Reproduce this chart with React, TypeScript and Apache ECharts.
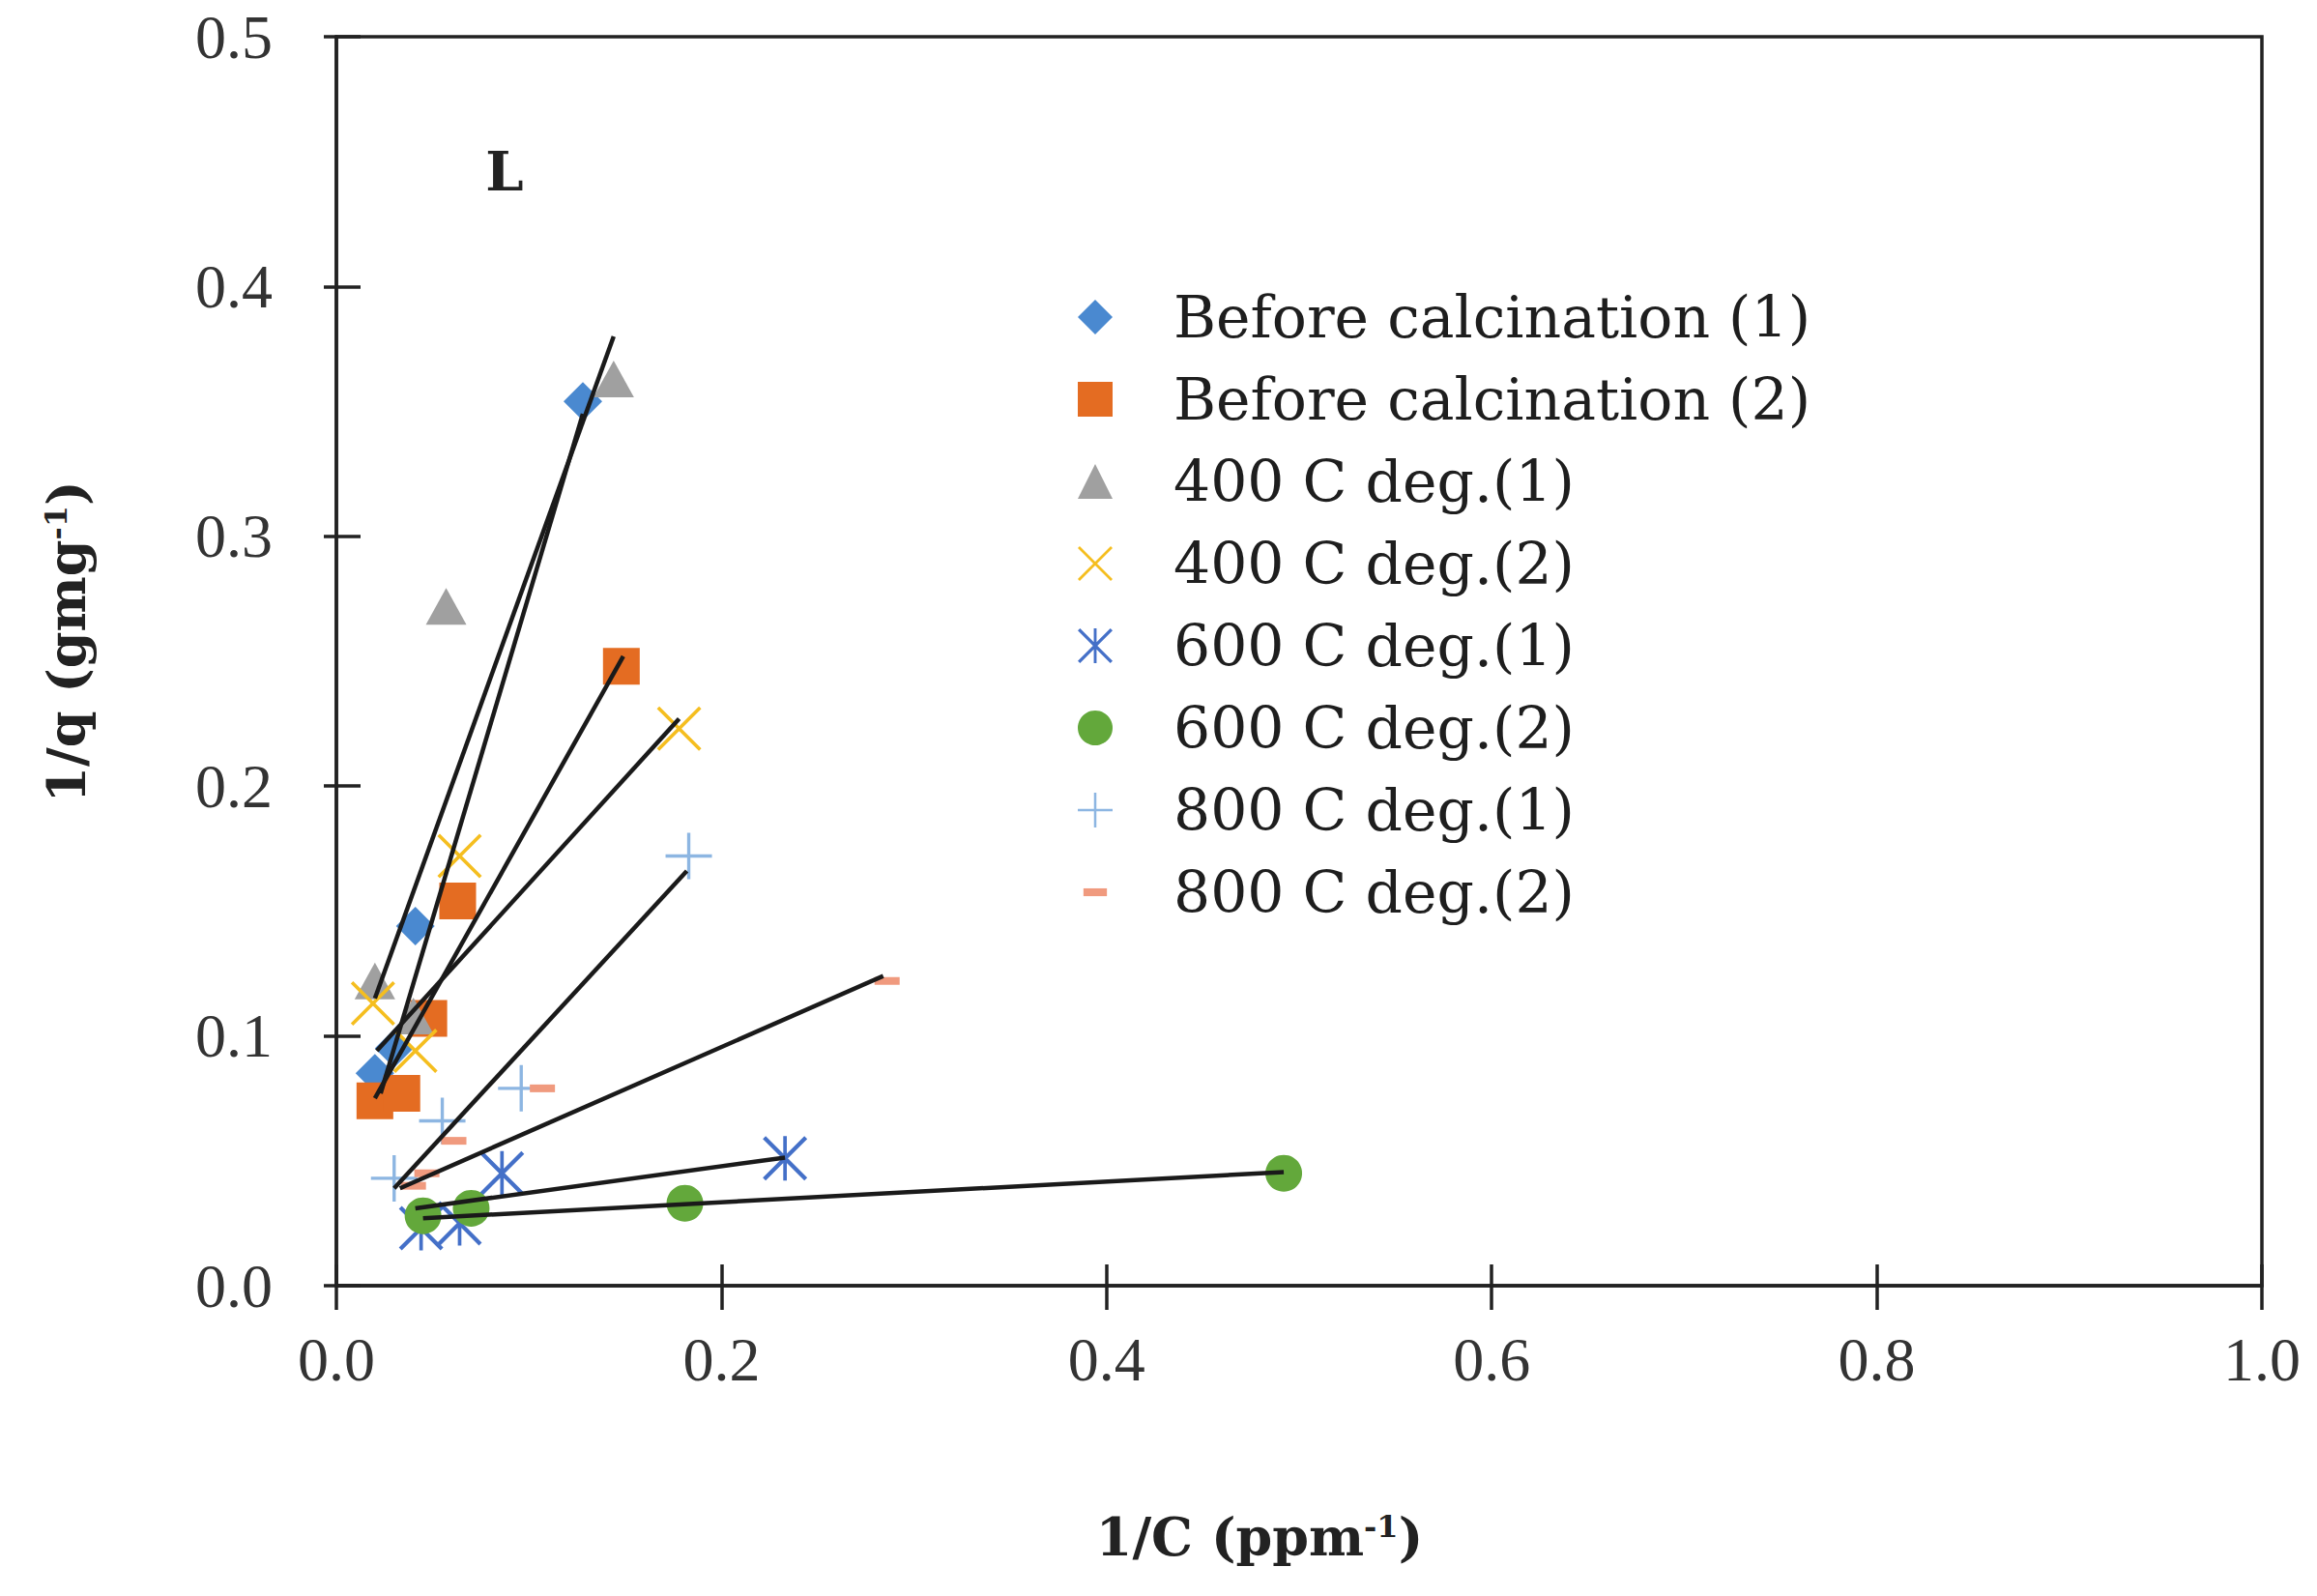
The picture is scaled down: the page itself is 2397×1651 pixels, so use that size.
import * as echarts from "echarts";
import { useEffect, useRef } from "react";

// series names (legend order)
const seriesNames = [
  "Before calcination (1)",
  "Before calcination (2)",
  "400 C deg.(1)",
  "400 C deg.(2)",
  "600 C deg.(1)",
  "600 C deg.(2)",
  "800 C deg.(1)",
  "800 C deg.(2)",
];

// points: x = 1/C, y = 1/q
const bc1X = [0.02, 0.03, 0.041, 0.128];
const bc1Y = [0.085, 0.095, 0.144, 0.354];
const bc2X = [0.02, 0.034, 0.048, 0.063, 0.148];
const bc2Y = [0.074, 0.077, 0.107, 0.154, 0.248];
const d400aX = [0.02, 0.04, 0.057, 0.144];
const d400aY = [0.122, 0.108, 0.272, 0.363];
const d400bX = [0.019, 0.041, 0.064, 0.178];
const d400bY = [0.113, 0.094, 0.172, 0.223];
const d600aX = [0.044, 0.064, 0.086, 0.233];
const d600aY = [0.023, 0.025, 0.045, 0.051];
const d600bX = [0.045, 0.07, 0.181, 0.492];
const d600bY = [0.028, 0.031, 0.033, 0.045];
const d800aX = [0.03, 0.055, 0.096, 0.183];
const d800aY = [0.043, 0.066, 0.079, 0.172];
const d800bX = [0.04, 0.047, 0.061, 0.107, 0.286];
const d800bY = [0.04, 0.045, 0.058, 0.079, 0.122];

// linear trendlines, [x, y] of both ends
const trendBc1 = [[0.023, 0.077], [0.128, 0.349]];
const trendBc2 = [[0.02, 0.075], [0.149, 0.252]];
const trend400a = [[0.02, 0.115], [0.144, 0.38]];
const trend400b = [[0.021, 0.094], [0.178, 0.227]];
const trend600a = [[0.041, 0.031], [0.233, 0.0513]];
const trend600b = [[0.045, 0.027], [0.492, 0.0455]];
const trend800a = [[0.03, 0.039], [0.182, 0.166]];
const trend800b = [[0.033, 0.039], [0.284, 0.124]];

const xTickLabels = ["0.0", "0.2", "0.4", "0.6", "0.8", "1.0"];
const yTickLabels = ["0.0", "0.1", "0.2", "0.3", "0.4", "0.5"];

const CROSS =
  "path://M2.2 0L40 37.8L37.8 40L0 2.2ZM37.8 0L40 2.2L2.2 40L0 37.8Z";
const ASTERISK =
  "path://M2.6 0L40 37.4L37.4 40L0 2.6ZM37.4 0L40 2.6L2.6 40L0 37.4ZM18.4 0L21.6 0L21.6 40L18.4 40Z";
const PLUS = "path://M0 18.6H40V21.4H0ZM18.6 0H21.4V40H18.6Z";
const DASH_LEGEND = "path://M0 0M40 40M6.5 15.5H33.5V24.5H6.5Z";

const zip = (xs: number[], ys: number[]) => xs.map((x, i) => [x, ys[i]]);

export default function App() {
  const chartRef = useRef<HTMLDivElement>(null);

  useEffect(() => {
    if (!chartRef.current) return;
    const chart = echarts.init(chartRef.current, undefined, { renderer: "svg" });

    const scatter = (
      name: string,
      xs: number[],
      ys: number[],
      color: string,
      symbol: string,
      symbolSize: number | number[]
    ) => ({
      name,
      type: "scatter",
      data: zip(xs, ys),
      symbol,
      symbolSize,
      itemStyle: { color, opacity: 1 },
      z: 2,
    });

    const trend = (name: string, data: number[][]) => ({
      name,
      type: "line",
      data,
      symbol: "none",
      showSymbol: false,
      silent: true,
      lineStyle: { color: "#1a1a1a", width: 4.5 },
      z: 3,
    });

    const axisColor = "#222";
    const serif = "'DejaVu Serif', serif";

    chart.setOption({
      animation: false,
      backgroundColor: "#fff",
      grid: {
        left: 348,
        top: 38,
        width: 1992,
        height: 1292,
        show: true,
        borderColor: axisColor,
        borderWidth: 3.5,
      },
      legend: {
        orient: "vertical",
        left: 1110,
        top: 293,
        itemWidth: 36,
        itemHeight: 36,
        itemGap: 25,
        selectedMode: false,
        data: seriesNames.map((n) =>
          n === "800 C deg.(2)" ? { name: n, icon: DASH_LEGEND } : n
        ),
        textStyle: {
          fontFamily: serif,
          fontSize: 60,
          color: "#1e1e1e",
          lineHeight: 36,
          padding: [0, 0, 0, 58],
        },
      },
      xAxis: [
        {
          type: "value",
          min: 0,
          max: 1,
          interval: 0.2,
          position: "bottom",
          axisLine: { show: true, onZero: false, lineStyle: { color: axisColor, width: 3.5 } },
          axisTick: { show: true, length: 25, lineStyle: { color: axisColor, width: 3.5 } },
          axisLabel: {
            margin: 44,
            fontFamily: "'Liberation Serif', serif",
            fontSize: 64,
            color: "#333",
            formatter: (v: number) => xTickLabels[Math.round(v / 0.2)],
          },
          splitLine: { show: false },
        },
        {
          type: "value",
          min: 0,
          max: 1,
          interval: 0.2,
          position: "bottom",
          axisLine: { show: false },
          axisTick: { show: true, inside: true, length: 22, lineStyle: { color: axisColor, width: 3.5 } },
          axisLabel: { show: false },
          splitLine: { show: false },
        },
      ],
      yAxis: [
        {
          type: "value",
          min: 0,
          max: 0.5,
          interval: 0.1,
          position: "left",
          axisLine: { show: true, onZero: false, lineStyle: { color: axisColor, width: 3.5 } },
          axisTick: { show: true, length: 13, lineStyle: { color: axisColor, width: 3.5 } },
          axisLabel: {
            margin: 66,
            fontFamily: "'Liberation Serif', serif",
            fontSize: 64,
            color: "#333",
            formatter: (v: number) => yTickLabels[Math.round(v / 0.1)],
          },
          splitLine: { show: false },
        },
        {
          type: "value",
          min: 0,
          max: 0.5,
          interval: 0.1,
          position: "left",
          axisLine: { show: false },
          axisTick: { show: true, inside: true, length: 25, lineStyle: { color: axisColor, width: 3.5 } },
          axisLabel: { show: false },
          splitLine: { show: false },
        },
      ],
      graphic: [
        {
          type: "text",
          x: 522,
          y: 177,
          style: {
            text: "L",
            fontFamily: serif,
            fontWeight: "bold",
            fontSize: 56,
            fill: "#222",
            align: "center",
            verticalAlign: "middle",
          },
        },
        {
          type: "text",
          x: 1303,
          y: 1590,
          style: {
            text: "{a|1/C (ppm}{s|-1}{a|)}",
            align: "center",
            verticalAlign: "middle",
            rich: {
              a: { fontFamily: serif, fontWeight: "bold", fontSize: 54, fill: "#222" },
              s: { fontFamily: serif, fontWeight: "bold", fontSize: 32, fill: "#222", verticalAlign: "top" },
            },
          },
        },
        {
          type: "text",
          x: 69,
          y: 664,
          rotation: Math.PI / 2,
          style: {
            text: "{a|1/q (gmg}{s|-1}{a|)}",
            align: "center",
            verticalAlign: "middle",
            rich: {
              a: { fontFamily: serif, fontWeight: "bold", fontSize: 54, fill: "#222" },
              s: { fontFamily: serif, fontWeight: "bold", fontSize: 32, fill: "#222", verticalAlign: "top" },
            },
          },
        },
      ],
      series: [
        scatter(seriesNames[0], bc1X, bc1Y, "#4a89d0", "diamond", 40),
        scatter(seriesNames[1], bc2X, bc2Y, "#e46c22", "rect", 38),
        scatter(seriesNames[2], d400aX, d400aY, "#a0a0a0", "triangle", [42, 38]),
        scatter(seriesNames[3], d400bX, d400bY, "#f5be1f", CROSS, 46),
        scatter(seriesNames[4], d600aX, d600aY, "#4470c8", ASTERISK, 46),
        scatter(seriesNames[5], d600bX, d600bY, "#63a83b", "circle", 38),
        scatter(seriesNames[6], d800aX, d800aY, "#8db6e2", PLUS, 48),
        scatter(seriesNames[7], d800bX, d800bY, "#f09a7e", "rect", [26, 8]),
        trend("t1", trendBc1),
        trend("t2", trendBc2),
        trend("t3", trend400a),
        trend("t4", trend400b),
        trend("t5", trend600a),
        trend("t6", trend600b),
        trend("t7", trend800a),
        trend("t8", trend800b),
      ],
    });

    return () => {
      chart.dispose();
    };
  }, []);

  return (
    <div
      ref={chartRef}
      style={{ position: "fixed", left: 0, top: 0, width: 2397, height: 1651 }}
    />
  );
}
